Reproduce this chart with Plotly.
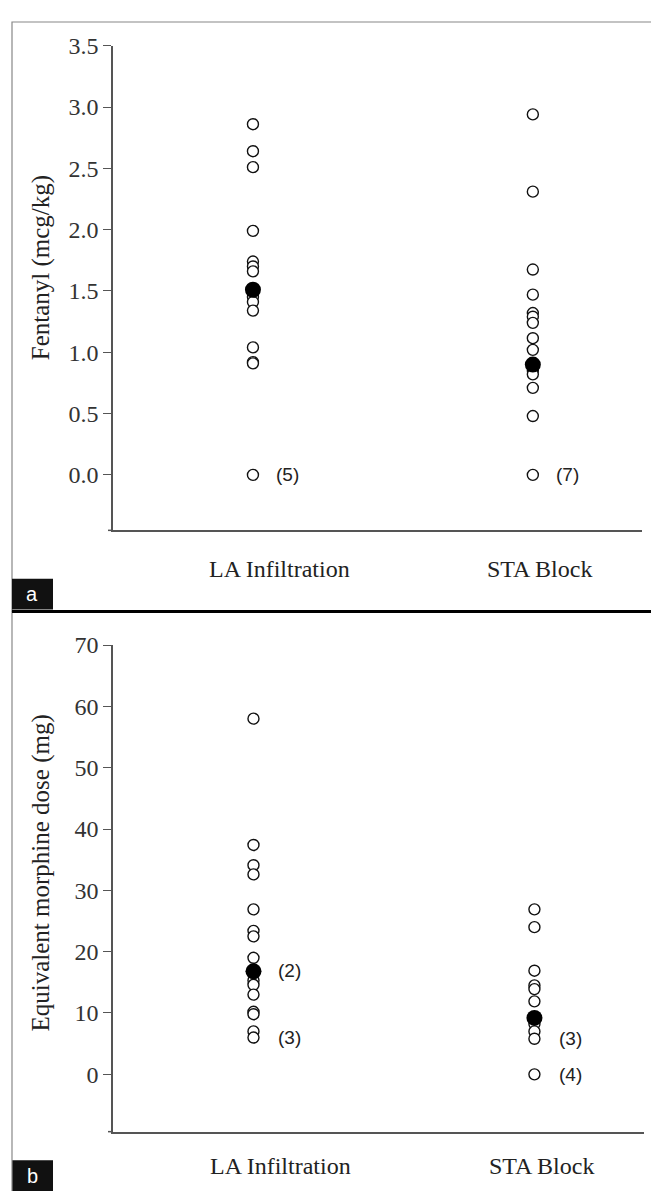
import plotly.graph_objects as go

W, H = 659, 1191
OFF = 8  # default page margin of the browser body
FW, FH = W - OFF, H - OFF

categories = ["LA Infiltration", "STA Block"]
cat_pos = [1, 2]

# Panel a: Fentanyl (mcg/kg)
fent_la = [2.86, 2.64, 2.51, 1.99, 1.74, 1.70, 1.66, 1.45, 1.41, 1.34, 1.04, 0.92, 0.91, 0.0]
fent_sta = [2.94, 2.31, 1.675, 1.47, 1.32, 1.29, 1.24, 1.115, 1.02, 0.85, 0.82, 0.71, 0.48, 0.0]
fent_center = [1.51, 0.90]
fent_notes = [("(5)", 0.0), ("(7)", 0.0)]
fent_ticks = [0.0, 0.5, 1.0, 1.5, 2.0, 2.5, 3.0, 3.5]

# Panel b: Equivalent morphine dose (mg)
morph_la = [58.0, 37.4, 34.1, 32.6, 26.9, 23.4, 22.5, 19.0, 15.3, 14.6, 13.0, 10.2, 9.8, 7.0, 6.0]
morph_sta = [26.9, 24.0, 16.9, 14.5, 13.9, 11.9, 8.2, 7.0, 5.8, 0.0]
morph_center = [16.8, 9.2]
morph_notes_la = [("(2)", 17.0), ("(3)", 6.0)]
morph_notes_sta = [("(3)", 5.8), ("(4)", 0.0)]
morph_ticks = [0, 10, 20, 30, 40, 50, 60, 70]


def px(x):
    return (x - OFF) / FW


def py(y):
    return 1 - (y - OFF) / FH


fig = go.Figure()

open_marker = dict(symbol="circle", size=11, color="white", line=dict(color="#111", width=1.4))
fill_marker = dict(symbol="circle", size=16, color="black", line=dict(color="black", width=0))

# Panel a traces
fig.add_trace(go.Scatter(x=[cat_pos[0]] * len(fent_la), y=fent_la, mode="markers",
                         marker=open_marker, xaxis="x", yaxis="y", showlegend=False))
fig.add_trace(go.Scatter(x=[cat_pos[1]] * len(fent_sta), y=fent_sta, mode="markers",
                         marker=open_marker, xaxis="x", yaxis="y", showlegend=False))
fig.add_trace(go.Scatter(x=cat_pos, y=fent_center, mode="markers",
                         marker=fill_marker, xaxis="x", yaxis="y", showlegend=False))

# Panel b traces
fig.add_trace(go.Scatter(x=[cat_pos[0]] * len(morph_la), y=morph_la, mode="markers",
                         marker=open_marker, xaxis="x2", yaxis="y2", showlegend=False))
fig.add_trace(go.Scatter(x=[cat_pos[1]] * len(morph_sta), y=morph_sta, mode="markers",
                         marker=open_marker, xaxis="x2", yaxis="y2", showlegend=False))
fig.add_trace(go.Scatter(x=cat_pos, y=morph_center, mode="markers",
                         marker=fill_marker, xaxis="x2", yaxis="y2", showlegend=False))

serif = "Liberation Serif, Times New Roman, serif"
sans = "Liberation Sans, Arial, sans-serif"
axis_col = "#555555"

common_y = dict(showgrid=False, zeroline=False, showline=True, linecolor=axis_col, linewidth=1.5,
                ticks="outside", ticklen=8, tickcolor=axis_col, tickwidth=1.2,
                tickfont=dict(family=serif, size=24, color="#333"))
common_x = dict(showgrid=False, zeroline=False, showline=True, linecolor=axis_col, linewidth=1.5,
                showticklabels=False, ticks="", range=[0.5, 2.39])

fig.update_layout(
    width=FW, height=FH, margin=dict(l=0, r=0, t=0, b=0),
    plot_bgcolor="white", paper_bgcolor="white",
    xaxis=dict(domain=[px(113), px(642)], anchor="y", **common_x),
    yaxis=dict(domain=[py(523), py(33)], anchor="x", range=[-0.452, 3.5],
               tickvals=fent_ticks, ticktext=[f"{v:.1f}" for v in fent_ticks], **common_y),
    xaxis2=dict(domain=[px(113), px(644)], anchor="y2", **common_x),
    yaxis2=dict(domain=[py(1131), py(639)], anchor="x2", range=[-9.35, 70],
                tickvals=morph_ticks, ticktext=[str(v) for v in morph_ticks], **common_y),
)

ann = []
note_font = dict(family=sans, size=19, color="#222")
for (txt, yv), xc in zip(fent_notes, cat_pos):
    ann.append(dict(x=xc, y=yv, xref="x", yref="y", text=txt, showarrow=False,
                    xanchor="left", xshift=21, font=note_font))
for txt, yv in morph_notes_la:
    ann.append(dict(x=cat_pos[0], y=yv, xref="x2", yref="y2", text=txt, showarrow=False,
                    xanchor="left", xshift=23, font=note_font))
for txt, yv in morph_notes_sta:
    ann.append(dict(x=cat_pos[1], y=yv, xref="x2", yref="y2", text=txt, showarrow=False,
                    xanchor="left", xshift=23, font=note_font))

# category labels
cat_font = dict(family=serif, size=24, color="#222")
shifts = [27, 7]
for c, xc, s in zip(categories, cat_pos, shifts):
    ann.append(dict(x=xc, y=py(562), xref="x", yref="paper", text=c, showarrow=False,
                    xanchor="center", yanchor="middle", xshift=s, font=cat_font))
    ann.append(dict(x=xc, y=py(1166), xref="x2", yref="paper", text=c, showarrow=False,
                    xanchor="center", yanchor="middle", xshift=s, font=cat_font))

# axis titles
title_font = dict(family=serif, size=25, color="#222")
ann.append(dict(x=px(41), y=py(258), xref="paper", yref="paper", text="Fentanyl (mcg/kg)",
                textangle=-90, showarrow=False, xanchor="center", yanchor="middle", font=title_font))
ann.append(dict(x=px(41), y=py(870), xref="paper", yref="paper", text="Equivalent morphine dose (mg)",
                textangle=-90, showarrow=False, xanchor="center", yanchor="middle", font=title_font))

# panel letters
for letter, ytop, ybot in [("a", 572, 603), ("b", 1160, 1191)]:
    ann.append(dict(x=px(32), y=py((ytop + ybot) / 2), xref="paper", yref="paper", text=letter,
                    showarrow=False, xanchor="center", yanchor="middle",
                    font=dict(family=sans, size=20, color="white")))

fig.update_layout(annotations=ann)

shapes = []
frame_col = "#888888"
shapes.append(dict(type="rect", xref="paper", yref="paper", x0=px(12), x1=px(655), y0=py(605), y1=py(9),
                   line=dict(color=frame_col, width=1.2), fillcolor="rgba(0,0,0,0)", layer="below"))
shapes.append(dict(type="line", xref="paper", yref="paper", x0=px(12), x1=px(12), y0=py(605), y1=0,
                   line=dict(color=frame_col, width=1.2)))
shapes.append(dict(type="line", xref="paper", yref="paper", x0=px(655), x1=px(655), y0=py(605), y1=0,
                   line=dict(color=frame_col, width=1.2)))
shapes.append(dict(type="line", xref="paper", yref="paper", x0=px(12), x1=1, y0=py(605), y1=py(605),
                   line=dict(color="black", width=3)))
# short extension of x-axis lines left of the y-axis
for yl in (523, 1131):
    shapes.append(dict(type="line", xref="paper", yref="paper", x0=px(108), x1=px(113), y0=py(yl), y1=py(yl),
                       line=dict(color=axis_col, width=1.5)))
for ytop, ybot in [(572, 603), (1160, 1191)]:
    shapes.append(dict(type="rect", xref="paper", yref="paper", x0=px(12), x1=px(53), y0=py(ybot), y1=py(ytop),
                       line=dict(width=0), fillcolor="#111111", layer="below"))

fig.update_layout(shapes=shapes)

fig.write_html("out.html")
